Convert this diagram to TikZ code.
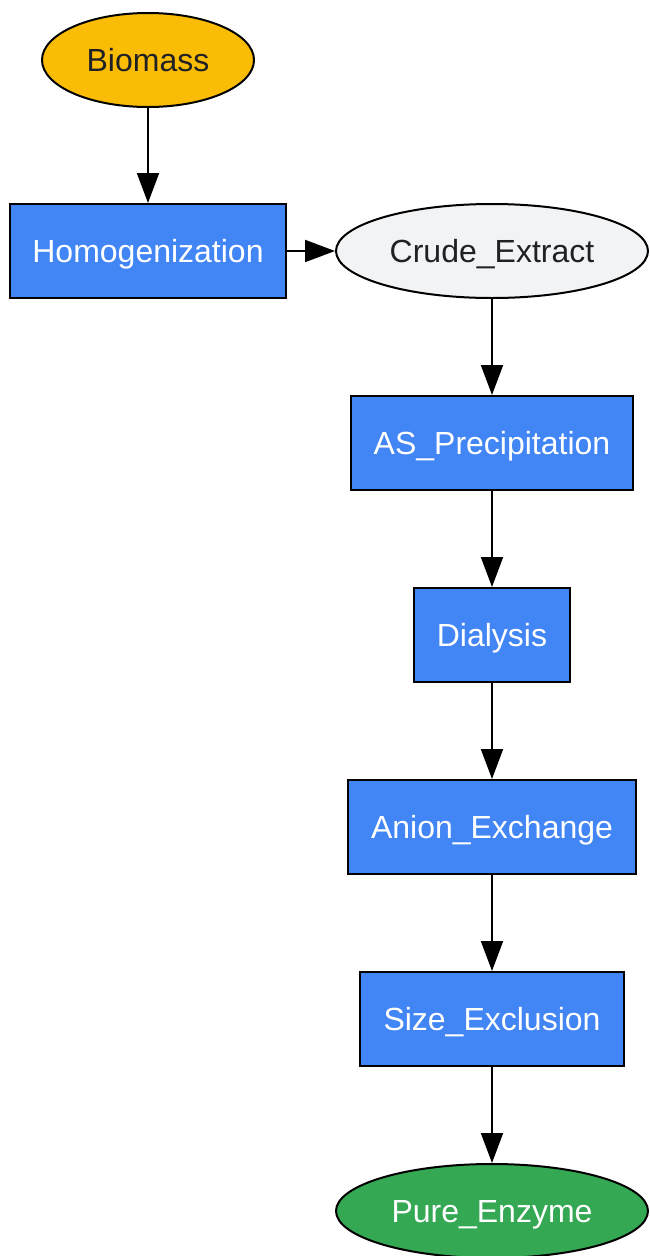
\documentclass[tikz,border=0pt]{standalone}
\usepackage{fontspec}
\setmainfont{Liberation Sans}
\usetikzlibrary{shapes.geometric,arrows.meta}
\definecolor{stepblue}{HTML}{4285F4}
\definecolor{startyellow}{HTML}{FBBC05}
\definecolor{endgreen}{HTML}{34A853}
\definecolor{midgray}{HTML}{F1F3F4}
\definecolor{darktext}{HTML}{202124}
\begin{document}
\begin{tikzpicture}[x=1pt, y=-1pt,
    every node/.style={font=\fontsize{32}{38}\selectfont, inner sep=0pt, text height=23pt, text depth=0pt, line width=2pt, draw=black},
    stepbox/.style={rectangle, fill=stepblue, text=white, minimum height=94pt},
    blob/.style={ellipse, minimum height=94pt},
    flow/.style={line width=2pt, -{Triangle[length=30pt, width=22pt]}}]
        % Definir coordenadas
        \def\xl{148} % columna izquierda
        \def\xr{492} % columna derecha
        \def\dy{192} % paso vertical

        % marco de la figura
        \useasboundingbox (0,0) rectangle (649,1256);

        % Nodos de inicio
        \node[blob, fill=startyellow, text=darktext, minimum width=212pt] (biomass) at (\xl,60) {Biomass};
        \node[stepbox, minimum width=276pt] (homog) at (\xl,251) {Homogenization};
        \node[blob, fill=midgray, text=darktext, minimum width=312pt] (crude) at (\xr,251) {Crude\_Extract};

        % Pasos de purificacion
        \node[stepbox, minimum width=282pt] (asprec) at (\xr,251+\dy) {AS\_Precipitation};
        \node[stepbox, minimum width=156pt] (dialysis) at (\xr,251+2*\dy) {Dialysis};
        \node[stepbox, minimum width=288pt] (anion) at (\xr,251+3*\dy) {Anion\_Exchange};
        \node[stepbox, minimum width=264pt] (sizeex) at (\xr,251+4*\dy) {Size\_Exclusion};
        \node[blob, fill=endgreen, text=white, minimum width=312pt] (pure) at (\xr,251+5*\dy) {Pure\_Enzyme};

        % Flechas
        \draw[flow] (biomass) -- (homog);
        \draw[flow] (homog) -- (crude);
        \draw[flow] (crude) -- (asprec);
        \draw[flow] (asprec) -- (dialysis);
        \draw[flow] (dialysis) -- (anion);
        \draw[flow] (anion) -- (sizeex);
        \draw[flow] (sizeex) -- (pure);
    \end{tikzpicture}
\end{document}
